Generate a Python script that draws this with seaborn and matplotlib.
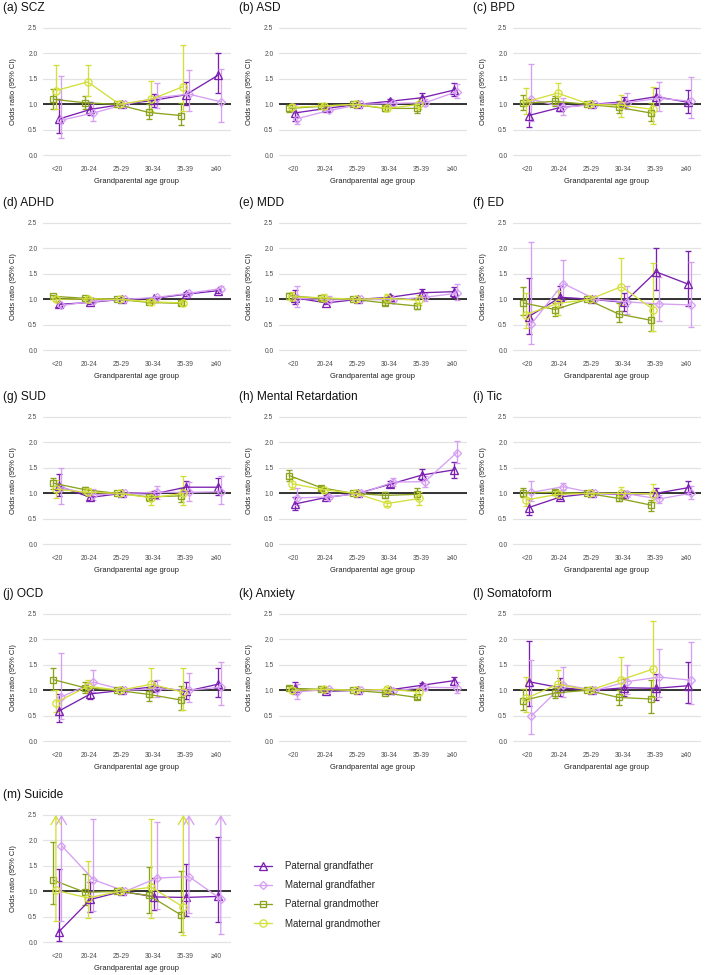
import numpy as np
import pandas as pd
import matplotlib
matplotlib.use("Agg")
import matplotlib.pyplot as plt
from matplotlib.lines import Line2D
import seaborn as sns

nan = np.nan
inf = np.inf  # upper CI beyond the axis (drawn as arrow)

age_groups = ["<20", "20-24", "25-29", "30-34", "35-39", "≥40"]
panel_titles = ["(a) SCZ", "(b) ASD", "(c) BPD", "(d) ADHD", "(e) MDD", "(f) ED",
                "(g) SUD", "(h) Mental Retardation", "(i) Tic", "(j) OCD",
                "(k) Anxiety", "(l) Somatoform", "(m) Suicide"]
series_names = ["Paternal grandfather", "Maternal grandfather",
                "Paternal grandmother", "Maternal grandmother"]

# one row per panel (a..m), one column per age group
pgf_or = [[0.71, 0.90, 1.0, 1.08, 1.19, 1.57], [0.83, 0.92, 1.0, 1.06, 1.13, 1.28],
          [0.78, 0.94, 1.0, 1.05, 1.15, 1.04], [0.90, 0.94, 1.0, 1.02, 1.10, 1.17],
          [1.03, 0.93, 1.0, 1.04, 1.13, 1.15], [0.66, 1.04, 1.0, 0.94, 1.54, 1.30],
          [1.14, 0.92, 1.0, 0.99, 1.12, 1.12], [0.79, 0.92, 1.0, 1.18, 1.36, 1.46],
          [0.72, 0.93, 1.0, 0.98, 1.00, 1.11], [0.59, 0.93, 1.0, 1.07, 0.98, 1.12],
          [1.04, 0.98, 1.0, 1.01, 1.10, 1.19], [1.17, 1.05, 1.0, 1.05, 1.04, 1.09],
          [0.20, 0.84, 1.0, 0.89, 0.88, 0.90]]
pgf_lo = [[0.44, 0.80, 1.0, 0.95, 0.99, 1.22], [0.68, 0.87, 1.0, 1.02, 1.05, 1.17],
          [0.55, 0.86, 1.0, 0.94, 0.99, 0.83], [0.85, 0.91, 1.0, 1.00, 1.07, 1.13],
          [0.91, 0.90, 1.0, 1.00, 1.07, 1.05], [0.31, 0.84, 1.0, 0.78, 1.18, 0.87],
          [0.94, 0.86, 1.0, 0.93, 1.01, 0.97], [0.67, 0.88, 1.0, 1.12, 1.26, 1.31],
          [0.57, 0.89, 1.0, 0.93, 0.91, 0.98], [0.37, 0.82, 1.0, 0.96, 0.82, 0.87],
          [0.93, 0.95, 1.0, 0.98, 1.06, 1.11], [0.70, 0.89, 1.0, 0.89, 0.81, 0.76],
          [0.03, 0.59, 1.0, 0.64, 0.51, 0.40]]
pgf_hi = [[1.11, 1.04, 1.0, 1.21, 1.43, 2.01], [1.00, 0.97, 1.0, 1.10, 1.22, 1.42],
          [1.10, 1.03, 1.0, 1.15, 1.33, 1.28], [0.95, 0.97, 1.0, 1.05, 1.14, 1.21],
          [1.19, 0.97, 1.0, 1.08, 1.20, 1.25], [1.42, 1.27, 1.0, 1.13, 2.01, 1.94],
          [1.37, 0.99, 1.0, 1.05, 1.25, 1.30], [0.93, 0.96, 1.0, 1.25, 1.47, 1.62],
          [0.89, 0.97, 1.0, 1.03, 1.10, 1.25], [0.93, 1.02, 1.0, 1.18, 1.16, 1.44],
          [1.17, 1.01, 1.0, 1.04, 1.15, 1.27], [1.97, 1.24, 1.0, 1.22, 1.33, 1.56],
          [1.43, 1.18, 1.0, 1.26, 1.53, 2.06]]

mgf_or = [[0.69, 0.83, 1.0, 1.13, 1.20, 1.05], [0.72, 0.88, 1.0, 1.02, 1.03, 1.25],
          [1.10, 0.94, 1.0, 1.03, 1.12, 1.06], [0.88, 0.96, 1.0, 1.04, 1.12, 1.21],
          [1.02, 0.99, 1.0, 0.99, 1.04, 1.12], [0.52, 1.31, 1.0, 0.95, 0.91, 0.89],
          [1.11, 0.97, 1.0, 1.02, 1.02, 1.03], [0.91, 0.93, 1.0, 1.22, 1.23, 1.80],
          [1.02, 1.13, 1.0, 0.99, 0.89, 1.00], [0.87, 1.16, 1.0, 1.03, 1.00, 1.06],
          [0.97, 1.02, 1.0, 0.99, 1.06, 1.05], [0.50, 1.11, 1.0, 1.17, 1.26, 1.20],
          [1.90, 1.23, 1.0, 1.26, 1.29, 0.85]]
mgf_lo = [[0.33, 0.67, 1.0, 0.92, 0.87, 0.65], [0.62, 0.85, 1.0, 0.97, 0.96, 1.12],
          [0.68, 0.80, 1.0, 0.90, 0.87, 0.73], [0.84, 0.93, 1.0, 1.01, 1.09, 1.17],
          [0.84, 0.93, 1.0, 0.94, 0.96, 0.98], [0.12, 0.98, 1.0, 0.72, 0.57, 0.45],
          [0.80, 0.87, 1.0, 0.89, 0.85, 0.80], [0.77, 0.88, 1.0, 1.14, 1.12, 1.59],
          [0.85, 1.07, 1.0, 0.93, 0.81, 0.88], [0.44, 0.96, 1.0, 0.86, 0.77, 0.71],
          [0.82, 0.99, 1.0, 0.95, 1.01, 0.94], [0.15, 0.86, 1.0, 0.93, 0.87, 0.73],
          [0.41, 0.62, 1.0, 0.66, 0.57, 0.17]]
mgf_hi = [[1.55, 1.02, 1.0, 1.41, 1.67, 1.70], [0.84, 0.92, 1.0, 1.07, 1.10, 1.40],
          [1.80, 1.12, 1.0, 1.23, 1.44, 1.53], [0.92, 0.99, 1.0, 1.07, 1.15, 1.26],
          [1.26, 1.06, 1.0, 1.06, 1.12, 1.31], [2.12, 1.77, 1.0, 1.27, 1.44, 1.73],
          [1.50, 1.09, 1.0, 1.15, 1.23, 1.35], [1.11, 0.97, 1.0, 1.31, 1.35, 2.03],
          [1.25, 1.20, 1.0, 1.05, 0.97, 1.15], [1.73, 1.40, 1.0, 1.21, 1.35, 1.56],
          [1.13, 1.05, 1.0, 1.03, 1.11, 1.16], [1.59, 1.45, 1.0, 1.49, 1.81, 1.95],
          [inf, 2.43, 1.0, 2.37, inf, inf]]

pgm_or = [[1.10, 1.03, 1.0, 0.84, 0.78, nan], [0.92, 0.96, 1.0, 0.92, 0.92, nan],
          [1.02, 1.06, 1.0, 0.94, 0.83, nan], [1.06, 1.02, 1.0, 0.94, 0.92, nan],
          [1.07, 1.02, 1.0, 0.93, 0.87, nan], [0.93, 0.80, 1.0, 0.71, 0.59, nan],
          [1.20, 1.07, 1.0, 0.93, 0.95, nan], [1.35, 1.11, 1.0, 0.96, 0.98, nan],
          [1.01, 1.02, 1.0, 0.90, 0.77, nan], [1.21, 1.05, 1.0, 0.92, 0.81, nan],
          [1.04, 1.02, 1.0, 0.95, 0.86, nan], [0.80, 0.95, 1.0, 0.86, 0.83, nan],
          [1.22, 0.98, 1.0, 0.92, 0.54, nan]]
pgm_lo = [[0.91, 0.91, 1.0, 0.71, 0.59, nan], [0.85, 0.93, 1.0, 0.87, 0.82, nan],
          [0.88, 0.97, 1.0, 0.83, 0.67, nan], [1.03, 1.00, 1.0, 0.92, 0.89, nan],
          [1.01, 0.99, 1.0, 0.89, 0.81, nan], [0.70, 0.67, 1.0, 0.55, 0.37, nan],
          [1.09, 1.01, 1.0, 0.85, 0.82, nan], [1.24, 1.07, 1.0, 0.90, 0.88, nan],
          [0.93, 0.97, 1.0, 0.84, 0.66, nan], [1.01, 0.94, 1.0, 0.79, 0.61, nan],
          [1.00, 1.00, 1.0, 0.92, 0.82, nan], [0.62, 0.84, 1.0, 0.71, 0.56, nan],
          [0.76, 0.74, 1.0, 0.58, 0.21, nan]]
pgm_hi = [[1.31, 1.16, 1.0, 1.00, 1.03, nan], [0.99, 0.99, 1.0, 0.97, 1.02, nan],
          [1.18, 1.16, 1.0, 1.07, 1.03, nan], [1.09, 1.04, 1.0, 0.96, 0.95, nan],
          [1.13, 1.05, 1.0, 0.97, 0.92, nan], [1.25, 0.93, 1.0, 0.92, 0.90, nan],
          [1.31, 1.13, 1.0, 1.02, 1.10, nan], [1.46, 1.15, 1.0, 1.02, 1.10, nan],
          [1.10, 1.07, 1.0, 0.96, 0.87, nan], [1.44, 1.17, 1.0, 1.04, 1.08, nan],
          [1.08, 1.04, 1.0, 0.97, 0.90, nan], [1.02, 1.05, 1.0, 1.00, 1.21, nan],
          [1.96, 1.35, 1.0, 1.48, 1.40, nan]]

mgm_or = [[1.27, 1.44, 1.0, 1.10, 1.35, nan], [0.94, 0.97, 1.0, 0.92, 1.00, nan],
          [1.05, 1.22, 1.0, 0.98, 0.90, nan], [1.00, 1.01, 1.0, 0.95, 0.93, nan],
          [1.05, 1.03, 1.0, 1.02, 0.98, nan], [0.70, 0.92, 1.0, 1.25, 0.80, nan],
          [1.08, 1.02, 1.0, 0.91, 1.00, nan], [1.19, 1.07, 1.0, 0.80, 0.90, nan],
          [0.87, 0.98, 1.0, 1.00, 0.99, nan], [0.76, 1.08, 1.0, 1.12, 0.96, nan],
          [1.00, 1.02, 1.0, 1.02, 0.97, nan], [0.84, 1.12, 1.0, 1.21, 1.42, nan],
          [1.02, 0.87, 1.0, 1.08, 0.69, nan]]
mgm_lo = [[0.91, 1.16, 1.0, 0.86, 0.86, nan], [0.88, 0.93, 1.0, 0.87, 0.90, nan],
          [0.81, 1.05, 1.0, 0.75, 0.61, nan], [0.96, 0.98, 1.0, 0.92, 0.89, nan],
          [0.97, 0.97, 1.0, 0.94, 0.88, nan], [0.43, 0.70, 1.0, 0.88, 0.37, nan],
          [0.91, 0.95, 1.0, 0.77, 0.78, nan], [1.08, 1.03, 1.0, 0.75, 0.78, nan],
          [0.76, 0.93, 1.0, 0.90, 0.82, nan], [0.57, 0.97, 1.0, 0.87, 0.62, nan],
          [0.95, 0.99, 1.0, 0.98, 0.90, nan], [0.57, 0.94, 1.0, 0.90, 0.87, nan],
          [0.41, 0.48, 1.0, 0.48, 0.14, nan]]
mgm_hi = [[1.78, 1.77, 1.0, 1.45, 2.16, nan], [1.00, 1.00, 1.0, 0.98, 1.12, nan],
          [1.33, 1.41, 1.0, 1.19, 1.34, nan], [1.04, 1.04, 1.0, 0.98, 0.97, nan],
          [1.15, 1.10, 1.0, 1.10, 1.08, nan], [1.12, 1.17, 1.0, 1.82, 1.72, nan],
          [1.27, 1.10, 1.0, 1.03, 1.35, nan], [1.30, 1.11, 1.0, 0.85, 1.02, nan],
          [1.00, 1.05, 1.0, 1.12, 1.18, nan], [1.01, 1.20, 1.0, 1.43, 1.44, nan],
          [1.06, 1.06, 1.0, 1.07, 1.05, nan], [1.27, 1.40, 1.0, 1.66, 2.36, nan],
          [inf, 1.60, 1.0, 2.42, inf, nan]]

colors = {"Paternal grandfather": "#7a1fb0", "Maternal grandfather": "#d69ff2",
          "Paternal grandmother": "#8ca31f", "Maternal grandmother": "#d3df3a"}
markers = {"Paternal grandfather": "^", "Maternal grandfather": "D",
           "Paternal grandmother": "s", "Maternal grandmother": "o"}
msizes = {"^": 5.6, "D": 4.4, "s": 4.8, "o": 5.2}
dodge = {"Paternal grandmother": -0.13, "Maternal grandmother": -0.045,
         "Paternal grandfather": 0.04, "Maternal grandfather": 0.13}

tables = {"Paternal grandfather": (pgf_or, pgf_lo, pgf_hi),
          "Maternal grandfather": (mgf_or, mgf_lo, mgf_hi),
          "Paternal grandmother": (pgm_or, pgm_lo, pgm_hi),
          "Maternal grandmother": (mgm_or, mgm_lo, mgm_hi)}

rows = []
for p, title in enumerate(panel_titles):
    for s in series_names:
        o, lo, hi = tables[s]
        for i, age in enumerate(age_groups):
            rows.append(dict(panel=title, series=s, age=age, x=i + dodge[s],
                             OR=o[p][i], lo=lo[p][i], hi=hi[p][i]))
df = pd.DataFrame(rows).dropna(subset=["OR"])

sns.set_theme(style="whitegrid")
plt.rcParams["font.family"] = ["Liberation Sans", "DejaVu Sans"]

W, H = 710, 975
fig = plt.figure(figsize=(W / 100, H / 100), dpi=100)

col_left = [43, 279, 513]
row_top = [21.6, 216.6, 410.6, 607.6, 808.6]
ax_w, ax_h = 188, 140
ew = 0.95

for p, title in enumerate(panel_titles):
    r, c = divmod(p, 3)
    ax = fig.add_axes([col_left[c] / W, 1 - (row_top[r] + ax_h) / H, ax_w / W, ax_h / H])
    sub = df[df.panel == title]

    ax.axhline(1.0, color="black", lw=1.1, zorder=1.5)

    sns.lineplot(data=sub, x="x", y="OR", hue="series", style="series",
                 palette=colors, markers=markers, dashes=False, estimator=None,
                 legend=False, lw=0.95, mfc="none", mew=0.95, ax=ax, zorder=3)
    for line in ax.lines[1:]:
        line.set_markeredgecolor(line.get_color())
        line.set_markersize(msizes.get(line.get_marker(), 5))

    # confidence intervals
    for s in series_names:
        d = sub[(sub.series == s) & (sub.age != "25-29")]
        clr = colors[s]
        fin = d[np.isfinite(d.hi)]
        ax.vlines(fin.x, fin.lo, fin.hi, colors=clr, lw=ew, zorder=2.5)
        ax.plot(fin.x, fin.lo, ls="none", marker="_", ms=5, mew=ew, color=clr, zorder=2.5)
        ax.plot(fin.x, fin.hi, ls="none", marker="_", ms=5, mew=ew, color=clr, zorder=2.5)
        over = d[~np.isfinite(d.hi)]
        for _, row in over.iterrows():
            ax.annotate("", xy=(row.x, 2.5), xytext=(row.x, row.lo),
                        arrowprops=dict(arrowstyle="->,head_length=0.5,head_width=0.3",
                                        color=clr, lw=ew, shrinkA=0, shrinkB=0))
        ax.plot(over.x, over.lo, ls="none", marker="_", ms=5, mew=ew, color=clr, zorder=2.5)

    ax.set_xlim(-0.45, 5.45)
    ax.set_ylim(-0.125, 2.625)
    ax.set_xticks(range(len(age_groups)))
    ax.set_xticklabels(age_groups)
    ax.set_yticks([0, 0.5, 1.0, 1.5, 2.0, 2.5])
    ax.set_yticklabels(["0.0", "0.5", "1.0", "1.5", "2.0", "2.5"])
    ax.grid(axis="x", visible=False)
    ax.grid(axis="y", color="#e3e3e3", lw=0.9)
    for sp in ax.spines.values():
        sp.set_visible(False)
    ax.tick_params(axis="both", length=2.0, width=0.6, color="#444444",
                   labelsize=4.8, labelcolor="#4d4d4d")
    ax.tick_params(axis="y", pad=2)
    ax.tick_params(axis="x", pad=1.5)
    ax.set_xlabel("Grandparental age group", fontsize=5.4, color="#222222")
    ax.set_ylabel("Odds ratio (95% CI)", fontsize=5.4, color="#222222")
    ax.xaxis.set_label_coords(0.5, -0.115)
    ax.yaxis.set_label_coords(-0.14, 0.5)

    fig.text((col_left[c] - 40) / W, 1 - (row_top[r] - 14) / H, title,
             fontsize=8.6, va="center", ha="left", color="#111111")

handles = [Line2D([], [], color=colors[s], marker=markers[s], mfc="none", mec=colors[s],
                  lw=0.95, mew=0.95, ms=msizes[markers[s]]) for s in series_names]
fig.legend(handles, series_names, loc="upper left",
           bbox_to_anchor=(254 / W, 1 - 861 / H), frameon=False, fontsize=7,
           handlelength=1.9, handletextpad=1.3, labelspacing=0.95,
           borderpad=0, borderaxespad=0)

fig.savefig("out.png", dpi=100)
